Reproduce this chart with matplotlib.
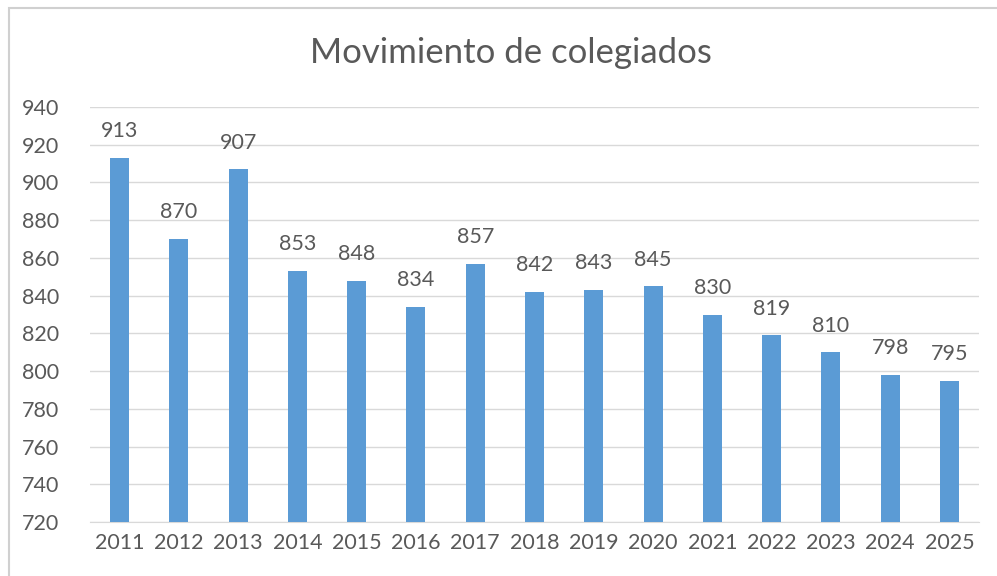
import matplotlib.pyplot as plt
from matplotlib.patches import Rectangle

years = ["2011", "2012", "2013", "2014", "2015", "2016", "2017", "2018",
         "2019", "2020", "2021", "2022", "2023", "2024", "2025"]
colegiados = [913, 870, 907, 853, 848, 834, 857, 842, 843, 845, 830, 819, 810, 798, 795]
y_ticks = list(range(720, 941, 20))

plt.rcParams["font.family"] = ["Lato", "DejaVu Sans"]
grey_text = "#595959"
grid_col = "#D9D9D9"
bar_col = "#5B9BD5"

W, H = 997, 576
fig = plt.figure(figsize=(W / 100, H / 100), dpi=100)
fig.patch.set_facecolor("white")

# chart border (cropped at right/bottom in the original)
fig.patches.append(Rectangle((9 / W, -0.1), 1.2, 1 - 8 / H + 0.1, transform=fig.transFigure,
                             fill=False, edgecolor="#D0D0D0", linewidth=1.5))

ax = fig.add_axes([90 / W, 1 - 522 / H, (979 - 90) / W, (522 - 107) / H])
x = range(len(years))
bars = ax.bar(x, colegiados, width=0.32, color=bar_col, zorder=3)

ax.set_ylim(720, 940)
ax.set_xlim(-0.5, len(years) - 0.5)
ax.set_yticks(y_ticks)
ax.set_xticks(list(x))
ax.set_xticklabels(years)
ax.yaxis.grid(True, color=grid_col, linewidth=1, zorder=0)
ax.tick_params(axis="both", length=0, labelsize=15.5, colors=grey_text)
ax.tick_params(axis="y", pad=22)
ax.tick_params(axis="x", pad=8)
for s in ["left", "right", "top"]:
    ax.spines[s].set_visible(False)
ax.spines["bottom"].set_color(grid_col)

for b, v in zip(bars, colegiados):
    ax.annotate(str(v), (b.get_x() + b.get_width() / 2, v), xytext=(0, 12),
                textcoords="offset points", ha="center", va="bottom",
                fontsize=15.5, color=grey_text)

fig.text(511 / W, 1 - 53 / H, "Movimiento de colegiados", ha="center", va="center",
         fontsize=25, color=grey_text)

fig.savefig("out.png", dpi=100)
